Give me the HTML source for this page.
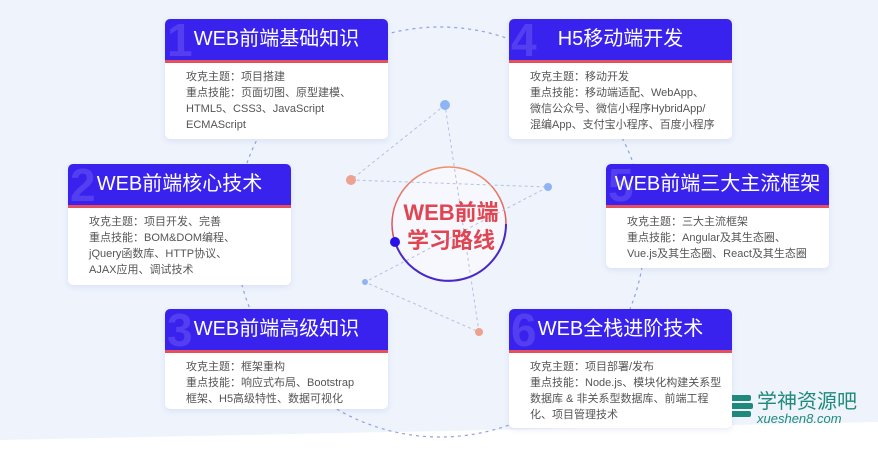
<!DOCTYPE html><html><head><meta charset="utf-8"><style>
body{margin:0;width:878px;height:457px;overflow:hidden;background:#fff;font-family:"Liberation Sans","Noto Sans CJK SC",sans-serif;position:relative}
.bg{position:absolute;left:0;top:0;width:878px;height:457px}
.card{position:absolute;width:223px;background:#fff;border-radius:5px;box-shadow:0 2px 6px rgba(80,100,180,.12);overflow:hidden}
.h{height:41px;background:#3a22ee;border-bottom:3px solid #e4505e;color:#fff;font-size:20px;line-height:41px;text-align:center;position:relative}
.h b{position:absolute;left:2px;top:-4px;font-size:46px;font-weight:bold;color:rgba(255,255,255,.13);line-height:50px}
.h span{position:relative}
.t{padding:6px 0 0 21px;font-size:11px;line-height:16px;color:#555}
</style></head><body>
<svg class="bg" width="878" height="457">
<polygon points="0,0 878,0 878,422 0,440" fill="#eef3fc"/>
<circle cx="440" cy="232" r="205" fill="none" stroke="#8fa3e0" stroke-width="1.2" stroke-dasharray="3,4"/>
<defs><linearGradient id="g" x1="0" y1="0" x2="0" y2="1"><stop offset="0" stop-color="#f0906a"/><stop offset=".6" stop-color="#e04858"/><stop offset="1" stop-color="#4a28d0"/></linearGradient></defs>
<circle cx="449" cy="224" r="57" fill="#f6f8fe" stroke="url(#g)" stroke-width="1.5"/>
<g stroke="#b5c0e0" stroke-width="1" stroke-dasharray="3,3" fill="none">
<path d="M445,105 L351,180 L548,187 L365,282 L479,332 L445,105"/></g>
<circle cx="445" cy="105" r="5" fill="#8fb4f5"/><circle cx="351" cy="180" r="5" fill="#eea190"/>
<circle cx="548" cy="187" r="4" fill="#8fb4f5"/><circle cx="365" cy="282" r="3" fill="#8fb4f5"/>
<circle cx="479" cy="332" r="4" fill="#eea190"/>
<path d="M395,242 A57,57 0 0 0 506,224" fill="none" stroke="#4a28c8" stroke-width="2"/>
<circle cx="395" cy="242" r="5" fill="#2a10e8"/>
<text x="451" y="220" text-anchor="middle" font-size="22" font-weight="bold" fill="#e04552" font-family="Liberation Sans,Noto Sans CJK SC,sans-serif">WEB前端</text>
<text x="451" y="248" text-anchor="middle" font-size="22" font-weight="bold" fill="#e04552" font-family="Liberation Sans,Noto Sans CJK SC,sans-serif">学习路线</text>
<g fill="#1f8a7c"><rect x="725" y="395" width="26" height="6" rx="2"/><rect x="727" y="403" width="26" height="6" rx="2"/><rect x="725" y="411" width="26" height="6" rx="2"/></g>
<text x="757" y="408" font-size="20" fill="#1f8a7c" font-family="Liberation Sans,Noto Sans CJK SC,sans-serif">学神资源吧</text>
<text x="757" y="423" font-size="13" font-style="italic" fill="#1f8a7c" font-family="Liberation Sans,sans-serif">xueshen8.com</text>
</svg>
<div class="card" style="left:165px;top:19px;height:120px"><div class="h"><b>1</b><span>WEB前端基础知识</span></div><div class="t">攻克主题：项目搭建<br>重点技能：页面切图、原型建模、<br>HTML5、CSS3、JavaScript<br>ECMAScript</div></div>
<div class="card" style="left:509px;top:19px;height:120px"><div class="h"><b>4</b><span>H5移动端开发</span></div><div class="t">攻克主题：移动开发<br>重点技能：移动端适配、WebApp、<br>微信公众号、微信小程序HybridApp/<br>混编App、支付宝小程序、百度小程序</div></div>
<div class="card" style="left:68px;top:164px;height:121px"><div class="h"><b>2</b><span>WEB前端核心技术</span></div><div class="t">攻克主题：项目开发、完善<br>重点技能：BOM&amp;DOM编程、<br>jQuery函数库、HTTP协议、<br>AJAX应用、调试技术</div></div>
<div class="card" style="left:606px;top:164px;height:104px"><div class="h"><b>5</b><span>WEB前端三大主流框架</span></div><div class="t">攻克主题：三大主流框架<br>重点技能：Angular及其生态圈、<br>Vue.js及其生态圈、React及其生态圈</div></div>
<div class="card" style="left:165px;top:309px;height:100px"><div class="h"><b>3</b><span>WEB前端高级知识</span></div><div class="t">攻克主题：框架重构<br>重点技能：响应式布局、Bootstrap<br>框架、H5高级特性、数据可视化</div></div>
<div class="card" style="left:509px;top:309px;height:119px"><div class="h"><b>6</b><span>WEB全栈进阶技术</span></div><div class="t">攻克主题：项目部署/发布<br>重点技能：Node.js、模块化构建关系型<br>数据库 &amp; 非关系型数据库、前端工程<br>化、项目管理技术</div></div>
</body></html>
